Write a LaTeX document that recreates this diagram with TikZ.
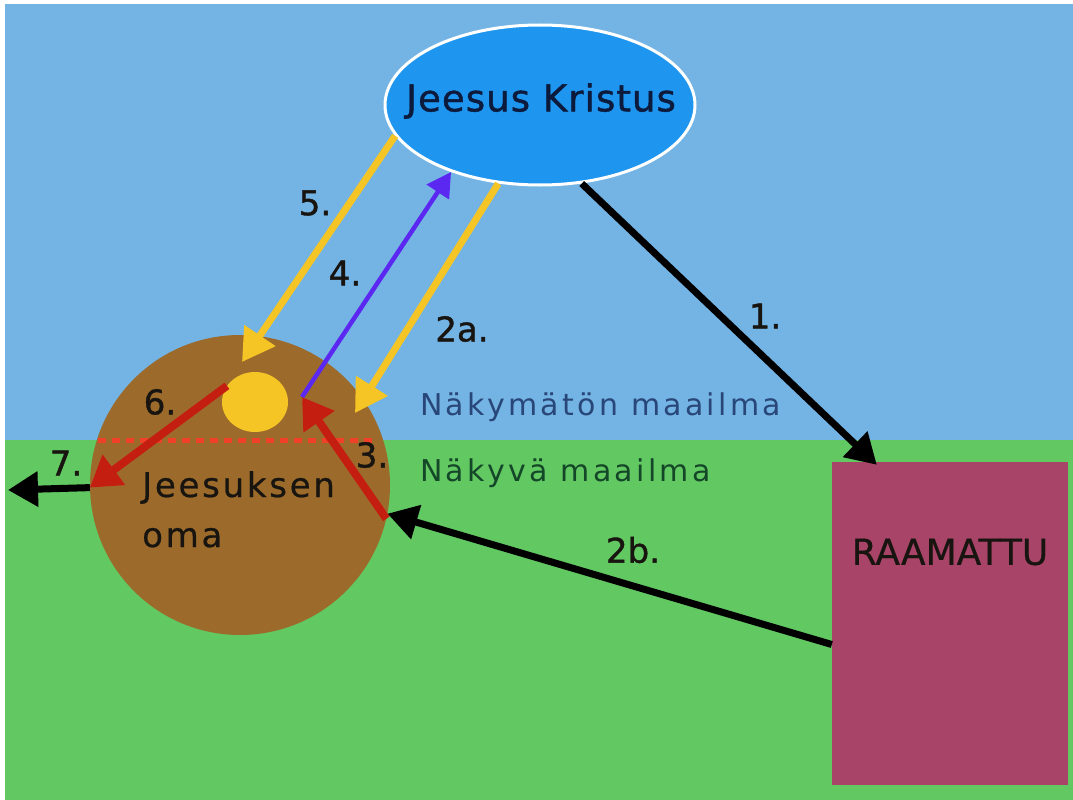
\documentclass[tikz,border=0pt]{standalone}
\usepackage{fontspec}
\setmainfont{DejaVu Sans}
\newfontfamily\wide[LetterSpace=11]{DejaVu Sans}
\newfontfamily\heavy[FakeBold=1.2,LetterSpace=3]{DejaVu Sans}
\newfontfamily\numfont[FakeBold=1.2]{DejaVu Sans}
\newfontfamily\omafont[FakeBold=0.6,LetterSpace=8]{DejaVu Sans}
\newfontfamily\bookfont[FakeBold=0.6]{DejaVu Sans}
\usetikzlibrary{arrows.meta,calc,shapes.geometric}
\definecolor{sky}{RGB}{116,180,228}
\definecolor{grass}{RGB}{98,200,98}
\definecolor{jkblue}{RGB}{30,150,240}
\definecolor{brownc}{RGB}{156,107,44}
\definecolor{sunc}{RGB}{245,196,37}
\definecolor{redc}{RGB}{196,30,16}
\definecolor{dashc}{RGB}{240,64,40}
\definecolor{violetc}{RGB}{90,40,240}
\definecolor{bookc}{RGB}{168,68,104}
\definecolor{navy}{RGB}{12,26,60}
\definecolor{ink}{RGB}{24,20,16}
\definecolor{unseen}{RGB}{40,70,120}
\definecolor{seen}{RGB}{20,70,40}
\tikzset{
  num/.style={font=\numfont\fontsize{34}{34}\selectfont, text=ink, inner sep=0pt},
  blackarrow/.style={draw=black, line width=7pt, -{Triangle[length=30pt,width=34pt]}},
  yelarrow/.style={draw=sunc, line width=7pt, -{Triangle[length=32pt,width=36pt]}},
  redarrow/.style={draw=redc, line width=8pt, -{Triangle[length=30pt,width=36pt]}},
  vioarrow/.style={draw=violetc, line width=4.5pt, -{Triangle[length=24pt,width=26pt]}},
}
\begin{document}
\begin{tikzpicture}[x=1pt,y=-1pt]
\useasboundingbox (0,0) rectangle (1073,800);
\fill[white] (0,0) rectangle (1073,800);
\fill[sky] (5,4) rectangle (1073,440);
\fill[grass] (5,440) rectangle (1073,800);
% main shapes
\node[circle, fill=brownc, minimum size=300pt, inner sep=0pt] (oma) at (240,485) {};
\draw[dashc, line width=5pt, dash pattern=on 8pt off 6pt] (98,440) coordinate (dl) -- (372,440) coordinate (dr);
\node[ellipse, fill=sunc, minimum width=66pt, minimum height=60pt, inner sep=0pt] (sun) at (255,402) {};
\node[rectangle, fill=bookc, minimum width=236pt, minimum height=323pt, inner sep=0pt] (rm) at (950,623.5) {};
\node[ellipse, fill=jkblue, draw=white, line width=3pt, minimum width=310pt, minimum height=160pt, inner sep=0pt] (jk) at (540,105) {};
% texts
\node[font=\heavy\fontsize{37}{37}\selectfont, text=navy, inner sep=0pt] (jkt) at (541,101) {Jeesus Kristus};
\node[font=\wide\fontsize{30}{30}\selectfont, text=unseen, inner sep=0pt, anchor=base west] (nm) at (420,415) {Näkymätön maailma};
\node[font=\wide\fontsize{30}{30}\selectfont, text=seen, inner sep=0pt, anchor=base west] (nv) at (420,481) {Näkyvä maailma};
\node[font=\omafont\fontsize{34}{34}\selectfont, text=ink, inner sep=0pt, anchor=base west] (je) at (142,497) {Jeesuksen};
\node[font=\omafont\fontsize{34}{34}\selectfont, text=ink, inner sep=0pt, anchor=base west] (om) at (142,547) {oma};
\node[font=\bookfont\fontsize{36}{36}\selectfont, text=ink, inner sep=0pt] (rmt) at (950,552) {RAAMATTU};
\node[num] (n5) at (315,203) {5.};
\node[num] (n4) at (345,273) {4.};
\node[num] (n2a) at (462,329) {2a.};
\node[num] (n1) at (765,316) {1.};
\node[num] (n6) at (160,402) {6.};
\node[num] (n3) at (372,455) {3.};
\node[num] (n7) at (66,463) {7.};
\node[num] (n2b) at (633,550) {2b.};
% connector end points
\coordinate (c1) at ($(rm.north west)+(45,3)$);
\coordinate (c2b) at ($(rm.west)+(0,21)$);
\coordinate (c7) at (8,490);
\coordinate (meet) at (302,397);
\coordinate (c5) at (242,362);
\coordinate (c2a) at (355,413);
% connectors
\draw[blackarrow] (jk.-62) -- (c1);
\draw[blackarrow] (c2b) -- (oma.-11.5);
\draw[blackarrow] (oma.181) -- (c7);
\draw[yelarrow] (jk.192) -- (c5);
\draw[yelarrow] (jk.242) -- (c2a);
\draw[vioarrow] (meet) -- (jk.217);
\draw[redarrow] (oma.-13) -- (meet);
\draw[redarrow] (sun.150) -- (oma.181);
\end{tikzpicture}
\end{document}
